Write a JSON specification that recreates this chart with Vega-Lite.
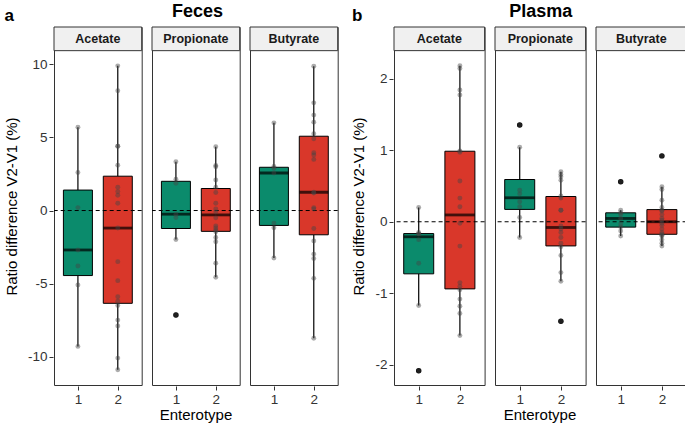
{
"$schema": "https://vega.github.io/schema/vega-lite/v6.json",
"padding": {"left": 4, "right": 1, "top": 3, "bottom": 0},
"config": {"font": "Liberation Sans", "view": {"stroke": "#333", "strokeWidth": 1}},
"datasets": {"d": [
{"s":"F","acid":"Acetate","et":"1","v":-9.3},{"s":"F","acid":"Acetate","et":"1","v":-5.1},{"s":"F","acid":"Acetate","et":"1","v":-3.8},{"s":"F","acid":"Acetate","et":"1","v":-2.7},{"s":"F","acid":"Acetate","et":"1","v":0.2},{"s":"F","acid":"Acetate","et":"1","v":2.6},{"s":"F","acid":"Acetate","et":"1","v":5.7},
{"s":"F","acid":"Acetate","et":"2","v":-10.9},{"s":"F","acid":"Acetate","et":"2","v":-10.1},{"s":"F","acid":"Acetate","et":"2","v":-7.9},{"s":"F","acid":"Acetate","et":"2","v":-7.5},{"s":"F","acid":"Acetate","et":"2","v":-6.5},{"s":"F","acid":"Acetate","et":"2","v":-6.2},{"s":"F","acid":"Acetate","et":"2","v":-5.9},{"s":"F","acid":"Acetate","et":"2","v":-4.8},{"s":"F","acid":"Acetate","et":"2","v":-3.5},{"s":"F","acid":"Acetate","et":"2","v":-1.2},{"s":"F","acid":"Acetate","et":"2","v":0.5},{"s":"F","acid":"Acetate","et":"2","v":1.05},{"s":"F","acid":"Acetate","et":"2","v":1.3},{"s":"F","acid":"Acetate","et":"2","v":1.6},{"s":"F","acid":"Acetate","et":"2","v":3.1},{"s":"F","acid":"Acetate","et":"2","v":4.4},{"s":"F","acid":"Acetate","et":"2","v":4.4},{"s":"F","acid":"Acetate","et":"2","v":8.2},{"s":"F","acid":"Acetate","et":"2","v":9.9},
{"s":"F","acid":"Propionate","et":"1","v":-7.15},{"s":"F","acid":"Propionate","et":"1","v":-1.98},{"s":"F","acid":"Propionate","et":"1","v":-0.48},{"s":"F","acid":"Propionate","et":"1","v":-0.25},{"s":"F","acid":"Propionate","et":"1","v":1.86},{"s":"F","acid":"Propionate","et":"1","v":2.14},{"s":"F","acid":"Propionate","et":"1","v":3.34},
{"s":"F","acid":"Propionate","et":"2","v":-4.57},{"s":"F","acid":"Propionate","et":"2","v":-3.6},{"s":"F","acid":"Propionate","et":"2","v":-2.14},{"s":"F","acid":"Propionate","et":"2","v":-1.84},{"s":"F","acid":"Propionate","et":"2","v":-1.45},{"s":"F","acid":"Propionate","et":"2","v":-1.35},{"s":"F","acid":"Propionate","et":"2","v":-1.2},{"s":"F","acid":"Propionate","et":"2","v":-1.05},{"s":"F","acid":"Propionate","et":"2","v":-0.5},{"s":"F","acid":"Propionate","et":"2","v":-0.1},{"s":"F","acid":"Propionate","et":"2","v":0.1},{"s":"F","acid":"Propionate","et":"2","v":0.5},{"s":"F","acid":"Propionate","et":"2","v":1.23},{"s":"F","acid":"Propionate","et":"2","v":1.6},{"s":"F","acid":"Propionate","et":"2","v":2.09},{"s":"F","acid":"Propionate","et":"2","v":3.0},{"s":"F","acid":"Propionate","et":"2","v":3.09},{"s":"F","acid":"Propionate","et":"2","v":4.37},
{"s":"F","acid":"Butyrate","et":"1","v":-3.25},{"s":"F","acid":"Butyrate","et":"1","v":-1.18},{"s":"F","acid":"Butyrate","et":"1","v":-0.86},{"s":"F","acid":"Butyrate","et":"1","v":2.57},{"s":"F","acid":"Butyrate","et":"1","v":2.9},{"s":"F","acid":"Butyrate","et":"1","v":3.02},{"s":"F","acid":"Butyrate","et":"1","v":6.0},
{"s":"F","acid":"Butyrate","et":"2","v":-8.74},{"s":"F","acid":"Butyrate","et":"2","v":-4.64},{"s":"F","acid":"Butyrate","et":"2","v":-3.28},{"s":"F","acid":"Butyrate","et":"2","v":-2.98},{"s":"F","acid":"Butyrate","et":"2","v":-2.09},{"s":"F","acid":"Butyrate","et":"2","v":-1.23},{"s":"F","acid":"Butyrate","et":"2","v":0.1},{"s":"F","acid":"Butyrate","et":"2","v":0.2},{"s":"F","acid":"Butyrate","et":"2","v":1.2},{"s":"F","acid":"Butyrate","et":"2","v":1.25},{"s":"F","acid":"Butyrate","et":"2","v":3.5},{"s":"F","acid":"Butyrate","et":"2","v":3.8},{"s":"F","acid":"Butyrate","et":"2","v":3.96},{"s":"F","acid":"Butyrate","et":"2","v":4.91},{"s":"F","acid":"Butyrate","et":"2","v":5.26},{"s":"F","acid":"Butyrate","et":"2","v":6.05},{"s":"F","acid":"Butyrate","et":"2","v":6.53},{"s":"F","acid":"Butyrate","et":"2","v":7.37},{"s":"F","acid":"Butyrate","et":"2","v":9.87},
{"s":"P","acid":"Acetate","et":"1","v":-2.08},{"s":"P","acid":"Acetate","et":"1","v":-1.17},{"s":"P","acid":"Acetate","et":"1","v":-0.58},{"s":"P","acid":"Acetate","et":"1","v":-0.25},{"s":"P","acid":"Acetate","et":"1","v":-0.17},{"s":"P","acid":"Acetate","et":"1","v":-0.17},{"s":"P","acid":"Acetate","et":"1","v":-0.15},{"s":"P","acid":"Acetate","et":"1","v":0.2},
{"s":"P","acid":"Acetate","et":"2","v":-1.59},{"s":"P","acid":"Acetate","et":"2","v":-1.28},{"s":"P","acid":"Acetate","et":"2","v":-1.18},{"s":"P","acid":"Acetate","et":"2","v":-1.08},{"s":"P","acid":"Acetate","et":"2","v":-0.95},{"s":"P","acid":"Acetate","et":"2","v":-0.9},{"s":"P","acid":"Acetate","et":"2","v":-0.85},{"s":"P","acid":"Acetate","et":"2","v":-0.34},{"s":"P","acid":"Acetate","et":"2","v":-0.02},{"s":"P","acid":"Acetate","et":"2","v":0.21},{"s":"P","acid":"Acetate","et":"2","v":0.33},{"s":"P","acid":"Acetate","et":"2","v":0.57},{"s":"P","acid":"Acetate","et":"2","v":0.97},{"s":"P","acid":"Acetate","et":"2","v":0.99},{"s":"P","acid":"Acetate","et":"2","v":1.77},{"s":"P","acid":"Acetate","et":"2","v":1.84},{"s":"P","acid":"Acetate","et":"2","v":2.14},{"s":"P","acid":"Acetate","et":"2","v":2.18},
{"s":"P","acid":"Propionate","et":"1","v":-0.22},{"s":"P","acid":"Propionate","et":"1","v":0.06},{"s":"P","acid":"Propionate","et":"1","v":0.21},{"s":"P","acid":"Propionate","et":"1","v":0.28},{"s":"P","acid":"Propionate","et":"1","v":0.39},{"s":"P","acid":"Propionate","et":"1","v":0.44},{"s":"P","acid":"Propionate","et":"1","v":1.04},{"s":"P","acid":"Propionate","et":"1","v":1.35},
{"s":"P","acid":"Propionate","et":"2","v":-1.39},{"s":"P","acid":"Propionate","et":"2","v":-0.83},{"s":"P","acid":"Propionate","et":"2","v":-0.71},{"s":"P","acid":"Propionate","et":"2","v":-0.47},{"s":"P","acid":"Propionate","et":"2","v":-0.35},{"s":"P","acid":"Propionate","et":"2","v":-0.3},{"s":"P","acid":"Propionate","et":"2","v":-0.22},{"s":"P","acid":"Propionate","et":"2","v":-0.15},{"s":"P","acid":"Propionate","et":"2","v":-0.1},{"s":"P","acid":"Propionate","et":"2","v":-0.06},{"s":"P","acid":"Propionate","et":"2","v":0.16},{"s":"P","acid":"Propionate","et":"2","v":0.16},{"s":"P","acid":"Propionate","et":"2","v":0.33},{"s":"P","acid":"Propionate","et":"2","v":0.36},{"s":"P","acid":"Propionate","et":"2","v":0.58},{"s":"P","acid":"Propionate","et":"2","v":0.63},{"s":"P","acid":"Propionate","et":"2","v":0.66},{"s":"P","acid":"Propionate","et":"2","v":0.7},
{"s":"P","acid":"Butyrate","et":"1","v":-0.2},{"s":"P","acid":"Butyrate","et":"1","v":-0.13},{"s":"P","acid":"Butyrate","et":"1","v":-0.075},{"s":"P","acid":"Butyrate","et":"1","v":-0.03},{"s":"P","acid":"Butyrate","et":"1","v":0.046},{"s":"P","acid":"Butyrate","et":"1","v":0.1},{"s":"P","acid":"Butyrate","et":"1","v":0.125},{"s":"P","acid":"Butyrate","et":"1","v":0.16},{"s":"P","acid":"Butyrate","et":"1","v":0.56},
{"s":"P","acid":"Butyrate","et":"2","v":-0.34},{"s":"P","acid":"Butyrate","et":"2","v":-0.3},{"s":"P","acid":"Butyrate","et":"2","v":-0.25},{"s":"P","acid":"Butyrate","et":"2","v":-0.2},{"s":"P","acid":"Butyrate","et":"2","v":-0.19},{"s":"P","acid":"Butyrate","et":"2","v":-0.17},{"s":"P","acid":"Butyrate","et":"2","v":-0.15},{"s":"P","acid":"Butyrate","et":"2","v":-0.1},{"s":"P","acid":"Butyrate","et":"2","v":-0.05},{"s":"P","acid":"Butyrate","et":"2","v":-0.02},{"s":"P","acid":"Butyrate","et":"2","v":0.02},{"s":"P","acid":"Butyrate","et":"2","v":0.05},{"s":"P","acid":"Butyrate","et":"2","v":0.1},{"s":"P","acid":"Butyrate","et":"2","v":0.15},{"s":"P","acid":"Butyrate","et":"2","v":0.16},{"s":"P","acid":"Butyrate","et":"2","v":0.2},{"s":"P","acid":"Butyrate","et":"2","v":0.3},{"s":"P","acid":"Butyrate","et":"2","v":0.45},{"s":"P","acid":"Butyrate","et":"2","v":0.49},{"s":"P","acid":"Butyrate","et":"2","v":0.92}
]},
"spacing": 12,
"hconcat": [
{
 "title": {"text": "a", "anchor": "start", "frame": "bounds", "fontSize": 17, "fontWeight": "bold", "color": "black", "offset": -22},
 "vconcat": [{
  "data": {"name": "d"},
  "transform": [{"filter": "datum.s === 'F'"}],
  "title": {"text": "Feces", "anchor": "middle", "frame": "bounds", "dx": 26, "fontSize": 18, "fontWeight": "bold", "color": "black", "offset": 5},
  "spacing": 8,
  "facet": {"column": {"field": "acid", "type": "nominal", "sort": ["Acetate", "Propionate", "Butyrate"], "title": "Enterotype",
    "header": {"labels": false, "titleOrient": "bottom", "titleFontSize": 15, "titleFontWeight": "normal", "titleColor": "black", "titlePadding": -8}}},
  "spec": {
   "width": 87.7, "height": 358,
   "layer": [
    {"transform": [{"aggregate": [{"op": "count", "as": "n"}], "groupby": ["acid"]}],
     "layer": [
      {"mark": {"type": "rect", "fill": "#f0f0f0", "stroke": "#333", "strokeWidth": 1},
       "encoding": {"x": {"value": 0}, "x2": {"value": "width"}, "y": {"datum": 10.94, "type": "quantitative"}, "y2": {"datum": 12.56}}},
      {"mark": {"type": "text", "fontWeight": "bold", "fontSize": 12.5, "color": "#1a1a1a", "baseline": "middle"},
       "encoding": {"y": {"datum": 11.75, "type": "quantitative"}, "text": {"field": "acid"}}}
     ]},
    {"mark": {"type": "boxplot", "extent": 1.5, "size": 29, "ticks": false,
       "box": {"stroke": "black", "strokeWidth": 1},
       "median": {"color": "black", "thickness": 2.8},
       "rule": {"color": "black", "strokeWidth": 1.2},
       "outliers": {"color": "black", "fill": "black", "filled": true, "size": 30, "opacity": 1}},
     "encoding": {
      "x": {"field": "et", "type": "nominal", "scale": {"type": "point", "padding": 0.6},
            "axis": {"title": null, "labelAngle": 0, "domain": false, "tickSize": 4, "tickColor": "#333", "labelFontSize": 13.5, "labelColor": "#333", "labelPadding": 2}},
      "y": {"field": "v", "type": "quantitative", "scale": {"domain": [-11.94, 12.56], "nice": false, "zero": false},
            "axis": {"title": "Ratio difference V2-V1 (%)", "values": [-10, -5, 0, 5, 10], "labelExpr": "'' + datum.value", "domain": false, "grid": false, "tickSize": 4, "tickColor": "#333", "labelFontSize": 13.5, "labelColor": "#333", "labelPadding": 2, "titleFontSize": 15, "titleFontWeight": "normal", "titleColor": "black", "titlePadding": 8}},
      "color": {"field": "et", "type": "nominal", "scale": {"domain": ["1", "2"], "range": ["#0b8b6c", "#d9372a"]}, "legend": null}
     }},
    {"transform": [{"aggregate": [{"op": "count", "as": "n"}], "groupby": ["acid"]}],
     "mark": {"type": "rule", "color": "black", "strokeDash": [4, 3], "strokeWidth": 1},
     "encoding": {"y": {"datum": 0, "type": "quantitative"}}},
    {"mark": {"type": "circle", "color": "#444", "opacity": 0.45, "size": 24},
     "encoding": {"x": {"field": "et", "type": "nominal"}, "y": {"field": "v", "type": "quantitative"}}}
   ]
  }
 }]
},
{
 "title": {"text": "b", "anchor": "start", "frame": "bounds", "fontSize": 17, "fontWeight": "bold", "color": "black", "offset": -22},
 "vconcat": [{
  "data": {"name": "d"},
  "transform": [{"filter": "datum.s === 'P'"}],
  "title": {"text": "Plasma", "anchor": "middle", "frame": "bounds", "dx": 21, "fontSize": 18, "fontWeight": "bold", "color": "black", "offset": 5},
  "spacing": 8,
  "facet": {"column": {"field": "acid", "type": "nominal", "sort": ["Acetate", "Propionate", "Butyrate"], "title": "Enterotype",
    "header": {"labels": false, "titleOrient": "bottom", "titleFontSize": 15, "titleFontWeight": "normal", "titleColor": "black", "titlePadding": -8}}},
  "spec": {
   "width": 90.6, "height": 358,
   "layer": [
    {"transform": [{"aggregate": [{"op": "count", "as": "n"}], "groupby": ["acid"]}],
     "layer": [
      {"mark": {"type": "rect", "fill": "#f0f0f0", "stroke": "#333", "strokeWidth": 1},
       "encoding": {"x": {"value": 0}, "x2": {"value": "width"}, "y": {"datum": 2.39, "type": "quantitative"}, "y2": {"datum": 2.72}}},
      {"mark": {"type": "text", "fontWeight": "bold", "fontSize": 12.5, "color": "#1a1a1a", "baseline": "middle"},
       "encoding": {"y": {"datum": 2.555, "type": "quantitative"}, "text": {"field": "acid"}}}
     ]},
    {"mark": {"type": "boxplot", "extent": 1.5, "size": 30, "ticks": false,
       "box": {"stroke": "black", "strokeWidth": 1},
       "median": {"color": "black", "thickness": 2.8},
       "rule": {"color": "black", "strokeWidth": 1.2},
       "outliers": {"color": "black", "fill": "black", "filled": true, "size": 30, "opacity": 1}},
     "encoding": {
      "x": {"field": "et", "type": "nominal", "scale": {"type": "point", "padding": 0.6},
            "axis": {"title": null, "labelAngle": 0, "domain": false, "tickSize": 4, "tickColor": "#333", "labelFontSize": 13.5, "labelColor": "#333", "labelPadding": 2}},
      "y": {"field": "v", "type": "quantitative", "scale": {"domain": [-2.28, 2.72], "nice": false, "zero": false},
            "axis": {"title": "Ratio difference V2-V1 (%)", "values": [-2, -1, 0, 1, 2], "labelExpr": "'' + datum.value", "domain": false, "grid": false, "tickSize": 4, "tickColor": "#333", "labelFontSize": 13.5, "labelColor": "#333", "labelPadding": 2, "titleFontSize": 15, "titleFontWeight": "normal", "titleColor": "black", "titlePadding": 8}},
      "color": {"field": "et", "type": "nominal", "scale": {"domain": ["1", "2"], "range": ["#0b8b6c", "#d9372a"]}, "legend": null}
     }},
    {"transform": [{"aggregate": [{"op": "count", "as": "n"}], "groupby": ["acid"]}],
     "mark": {"type": "rule", "color": "black", "strokeDash": [4, 3], "strokeWidth": 1},
     "encoding": {"y": {"datum": 0, "type": "quantitative"}}},
    {"mark": {"type": "circle", "color": "#444", "opacity": 0.45, "size": 24},
     "encoding": {"x": {"field": "et", "type": "nominal"}, "y": {"field": "v", "type": "quantitative"}}}
   ]
  }
 }]
}
]
}
